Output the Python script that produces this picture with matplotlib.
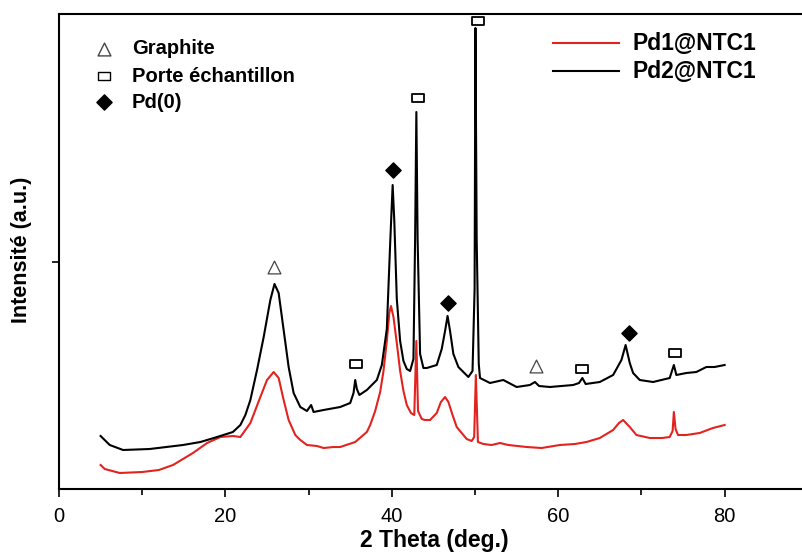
import matplotlib
matplotlib.use("Agg")
import matplotlib.pyplot as plt
from matplotlib.path import Path

plt.rcParams['font.family'] = ['Liberation Sans', 'DejaVu Sans']

# ---------------- data ----------------
pd1_x = [5.0, 5.5, 7.3, 10.0, 12.0, 13.7, 16.1, 17.8, 19.4, 20.9, 21.8, 23.0, 24.2, 25.0, 25.8,
         26.4, 27.0, 27.6, 28.4, 29.0, 29.8, 31.0, 31.8, 33.0, 33.8, 35.6, 37.0, 37.4, 38.0, 38.6,
         39.0, 39.4, 39.7, 39.9, 40.2, 40.6, 41.0, 41.4, 41.8, 42.3, 42.7, 42.95, 43.15, 43.6,
         44.0, 44.6, 45.4, 45.9, 46.4, 46.8, 47.3, 47.8, 48.2, 49.0, 49.6, 49.9, 50.1, 50.35,
         51.0, 52.0, 53.0, 54.0, 56.2, 58.0, 60.2, 62.0, 63.4, 65.0, 66.6, 67.3, 67.8, 68.6,
         69.4, 71.0, 72.5, 73.4, 73.75, 73.9, 74.1, 74.4, 75.4, 77.0, 78.6, 80.0]
pd1_y = [24, 20, 16, 17, 19, 24, 36, 46, 52, 53, 52, 66, 92, 109, 117,
         111, 89, 69, 54, 49, 44, 43, 41, 42, 42, 47, 57, 64, 78, 97,
         118, 148, 176, 183, 172, 146, 118, 98, 84, 76, 74, 148, 78, 70,
         69, 69, 76, 87, 92, 87, 74, 62, 58, 50, 48, 52, 114, 47,
         45, 44, 46, 44, 42, 41, 44, 45, 47, 51, 59, 66, 69, 62,
         54, 51, 51, 52, 58, 77, 60, 54, 54, 56, 61, 64]

pd2_x = [5.0, 6.1, 7.7, 10.9, 14.9, 17.0, 19.0, 20.9, 21.8, 22.4, 23.0, 23.8, 24.6, 25.4, 25.9,
         26.4, 27.0, 27.6, 28.2, 29.0, 29.8, 30.3, 30.6, 31.8, 33.8, 35.0,
         35.4, 35.6, 35.8, 36.1, 37.0, 38.2, 38.8, 39.4, 39.8, 40.1, 40.3, 40.6, 41.0, 41.4,
         41.8, 42.2, 42.6, 42.8, 42.95, 43.1, 43.4, 43.8, 44.2, 45.4, 46.0, 46.4, 46.7, 47.0,
         47.4, 48.0, 49.2, 49.7, 49.95, 50.05, 50.2, 50.45, 50.6, 51.8, 53.4, 55.0, 56.6, 57.2,
         57.7, 59.0, 61.8, 62.5, 62.9, 63.3, 65.0, 66.6, 67.6, 68.1, 68.6, 69.0, 69.8, 71.4,
         73.4, 73.9, 74.2, 75.4, 76.6, 77.8, 78.8, 80.0]
pd2_y = [53, 44, 39, 40, 44, 47, 52, 57, 64, 74, 89, 119, 152, 189, 205,
         196, 159, 122, 96, 82, 78, 84, 77, 79, 82, 86,
         96, 109, 100, 94, 99, 109, 124, 160, 245, 304, 268, 190, 148, 128,
         120, 118, 130, 250, 377, 250, 135, 121, 121, 124, 140, 158, 173, 158,
         135, 122, 112, 118, 200, 461, 250, 125, 111, 106, 109, 102, 104, 107,
         103, 102, 104, 106, 111, 105, 107, 114, 129, 144, 126, 116, 109, 107,
         111, 124, 114, 116, 117, 122, 122, 124]

series_names = ['Pd1@NTC1', 'Pd2@NTC1']

graphite_x = [25.9, 57.3]
graphite_y = [222, 123]
holder_x = [35.7, 43.2, 50.3, 62.9, 74.0]
holder_y = [125, 391, 468, 120, 136]
pd0_x = [40.2, 46.8, 68.5]
pd0_y = [319, 186, 156]

phase_names = ['Graphite', 'Porte échantillon', 'Pd(0)']

# ---------------- figure ----------------
fig = plt.figure(figsize=(8.02, 5.54), dpi=100)
ax = fig.add_axes([59/802, 65/554, 1 - 59/802, 475/554])

red = '#e2231f'
ax.plot(pd1_x, pd1_y, color=red, lw=1.5)
ax.plot(pd2_x, pd2_y, color='black', lw=1.5)

rect = Path([(-1, -0.75), (1, -0.75), (1, 0.75), (-1, 0.75), (-1, -0.75)],
            [Path.MOVETO, Path.LINETO, Path.LINETO, Path.LINETO, Path.CLOSEPOLY])

ax.scatter(graphite_x, graphite_y, marker='^', s=85, facecolors='white',
           edgecolors='#444444', linewidths=0.9, zorder=5)
ax.scatter(holder_x, holder_y, marker=rect, s=65, facecolors='white',
           edgecolors='black', linewidths=1.3, zorder=5)
ax.scatter(pd0_x, pd0_y, marker='D', s=60, color='black', zorder=5)

ax.set_xlim(0, 89.3)
ax.set_ylim(0, 475)
ax.set_xticks([0, 20, 40, 60, 80])
ax.set_xticks([10, 30, 50, 70], minor=True)
ax.set_yticks([227])
ax.set_yticklabels([])
ax.tick_params(axis='x', which='major', direction='out', length=6, width=1.2,
               labelsize=14.5, pad=7)
ax.tick_params(axis='x', which='minor', direction='out', length=4, width=1.2)
ax.tick_params(axis='y', direction='out', length=5, width=1.2)
for s in ['left', 'bottom', 'top']:
    ax.spines[s].set_linewidth(1.5)
ax.spines['right'].set_visible(False)

fig.text(434/802, 1 - 541/554, '2 Theta (deg.)', fontsize=16.5, fontweight='bold',
         ha='center', va='center')
fig.text(22/802, 1 - 250/554, 'Intensité (a.u.)', fontsize=15.5, fontweight='bold',
         ha='center', va='center', rotation=90)

# phase key (top left)
key_mk = ['^', rect, 'D']
key_y = [49, 76, 102]
key_fc = ['white', 'white', 'black']
key_ec = ['#444444', 'black', 'black']
key_s = [85, 65, 60]
for name, mk, yy, fc, ec, ss in zip(phase_names, key_mk, key_y, key_fc, key_ec, key_s):
    ax.scatter([(104 - 59) / (802 - 59)], [1 - (yy - 14) / 475], marker=mk, s=ss,
               facecolors=fc, edgecolors=ec, linewidths=1.0, transform=ax.transAxes,
               clip_on=False, zorder=6)
    fig.text(132/802, 1 - yy/554, name, fontsize=14.5, fontweight='bold',
             ha='left', va='center')

# series key (top right)
for name, col, yy in zip(series_names, [red, 'black'], [43, 71]):
    fig.add_artist(plt.Line2D([553/802, 619/802], [1 - yy/554, 1 - yy/554],
                              color=col, lw=1.5))
    fig.text(633/802, 1 - yy/554, name, fontsize=16.5, fontweight='bold',
             ha='left', va='center')

fig.savefig('out.png', dpi=100)
